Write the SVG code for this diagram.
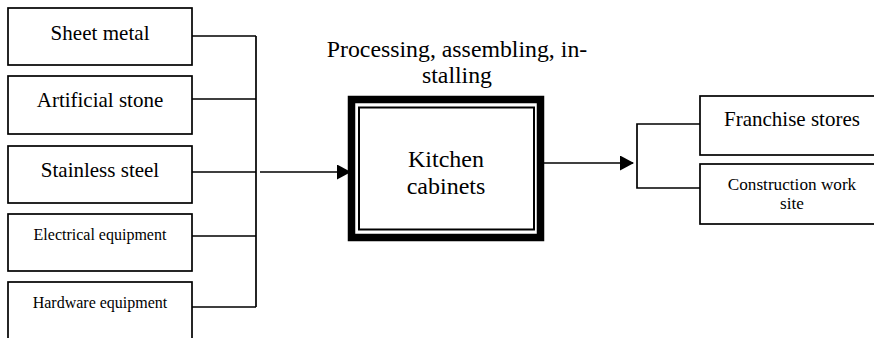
<svg xmlns="http://www.w3.org/2000/svg" width="874" height="338" viewBox="0 0 874 338">
  <style>
    .box { fill: #fff; stroke: #000; stroke-width: 1.7; }
    .line { fill: none; stroke: #000; stroke-width: 1.7; }
    .t { font-family: "Liberation Serif", "Times New Roman", serif; fill: #000; text-anchor: middle; }
    .big { font-size: 21px; }
    .small { font-size: 16px; }
  </style>
  <defs>
    <marker id="head" markerUnits="userSpaceOnUse" markerWidth="14" markerHeight="16" refX="13" refY="7.5" orient="auto">
      <path d="M0,0 L14,7.5 L0,15 Z" fill="#000"/>
    </marker>
  </defs>

  <rect width="874" height="338" fill="#fff"/>

  <!-- Materials (inputs) -->
  <g id="sheet-metal">
    <rect class="box" x="8" y="8" width="184" height="57"/>
    <text class="t big" x="100" y="40" textLength="99">Sheet metal</text>
  </g>
  <g id="artificial-stone">
    <rect class="box" x="8" y="76" width="184" height="58"/>
    <text class="t big" x="100" y="107">Artificial stone</text>
  </g>
  <g id="stainless-steel">
    <rect class="box" x="8" y="146" width="184" height="57"/>
    <text class="t big" x="100" y="177">Stainless steel</text>
  </g>
  <g id="electrical-equipment">
    <rect class="box" x="8" y="214" width="184" height="57"/>
    <text class="t small" x="100" y="240">Electrical equipment</text>
  </g>
  <g id="hardware-equipment">
    <rect class="box" x="8" y="282" width="184" height="70"/>
    <text class="t small" x="100" y="308">Hardware equipment</text>
  </g>

  <!-- Process -->
  <g id="process-label">
    <text class="t" font-size="23.8" x="457" y="57">Processing, assembling, in-</text>
    <text class="t" font-size="23.8" x="457" y="83">stalling</text>
  </g>
  <g id="kitchen-cabinets">
    <rect x="351.5" y="99.5" width="189" height="138" fill="#fff" stroke="#000" stroke-width="7.5"/>
    <rect x="359" y="107.5" width="175" height="122" fill="none" stroke="#000" stroke-width="2"/>
    <text class="t" font-size="24" x="446" y="167">Kitchen</text>
    <text class="t" font-size="24" x="446" y="194">cabinets</text>
  </g>

  <!-- Outlets -->
  <g id="franchise-stores">
    <rect class="box" x="700" y="96" width="184" height="59"/>
    <text class="t big" x="792" y="126">Franchise stores</text>
  </g>
  <g id="construction-site">
    <rect class="box" x="700" y="164" width="184" height="60"/>
    <text class="t" font-size="17.2" x="792" y="190">Construction work</text>
    <text class="t" font-size="17.2" x="792" y="209">site</text>
  </g>

  <!-- Connectors -->
  <g id="connectors">
    <path class="line" d="M192,36 H256 M192,99 H256 M192,172 H256 M192,236 H256 M192,307 H256 M256,36 V307"/>
    <line class="line" x1="260" y1="172" x2="350" y2="172" marker-end="url(#head)"/>
    <line class="line" x1="544" y1="163" x2="633" y2="163" marker-end="url(#head)"/>
    <path class="line" d="M700,124 H637 V188 H700"/>
  </g>
</svg>
